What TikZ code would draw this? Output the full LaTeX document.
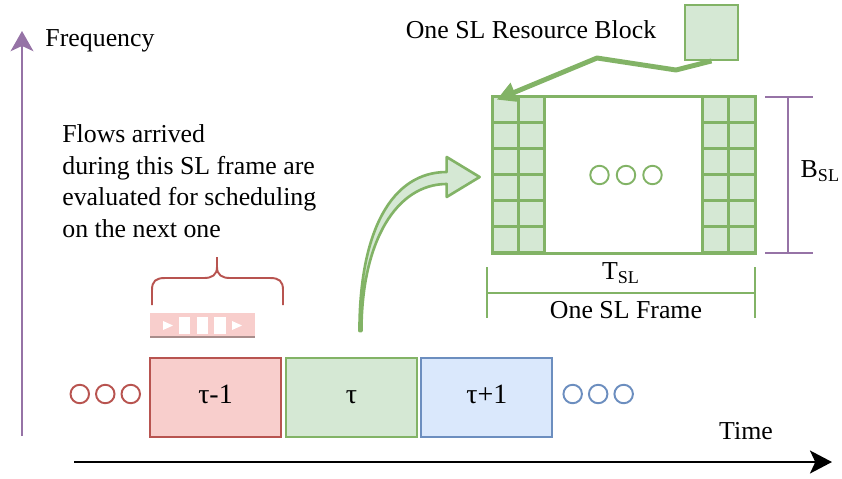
\documentclass[tikz,border=0pt]{standalone}
\usepackage{fontspec}
\setmainfont{Liberation Serif}
\usetikzlibrary{positioning, arrows.meta, calc}
\definecolor{redfill}{HTML}{F8CECC}
\definecolor{redline}{HTML}{B85450}
\definecolor{greenfill}{HTML}{D5E8D4}
\definecolor{greenline}{HTML}{82B366}
\definecolor{bluefill}{HTML}{DAE8FC}
\definecolor{blueline}{HTML}{6C8EBF}
\definecolor{axispurple}{HTML}{9673A6}
\definecolor{barline}{HTML}{A88D8B}
\tikzstyle{slot} = [rectangle, minimum width=2.62cm, minimum height=1.58cm, outer sep=0pt, text height=0.68em, text depth=0pt, text centered, line width=1.1pt, font=\fontsize{15.9}{19}\selectfont]
\tikzstyle{pastslot} = [slot, draw=redline, fill=redfill]
\tikzstyle{curslot} = [slot, draw=greenline, fill=greenfill]
\tikzstyle{nextslot} = [slot, draw=blueline, fill=bluefill]
\tikzstyle{ring} = [circle, minimum size=0.37cm, inner sep=0pt, outer sep=0pt, line width=1.1pt]
\tikzstyle{cell} = [draw=greenline, fill=greenfill, line width=1.6pt]
\tikzstyle{frameline} = [draw=greenline, line width=1.6pt]
\tikzstyle{dimline} = [line width=1.1pt]
\tikzstyle{freqaxis} = [draw=axispurple, line width=1.1pt, -{Stealth[length=11.5pt, width=13pt, inset=3pt]}]
\tikzstyle{timeaxis} = [draw=black, line width=1.6pt, -{Stealth[length=12.5pt, width=13pt, inset=3pt]}]
\tikzstyle{rbarrow} = [draw=greenline, line width=2.8pt, line join=round, -{Triangle[length=11pt, width=11pt]}]
\tikzstyle{flex} = [draw=greenline, fill=greenfill, line width=1.5pt, line join=round]

\begin{document}
\begin{tikzpicture}[x=0.02cm, y=-0.02cm, font=\fontsize{14.7}{18}\selectfont]
    \useasboundingbox (0,0) rectangle (842,478);

    \coordinate (f0) at (22,436);
    \coordinate (f1) at (22,31);
    \draw [freqaxis] (f0) -- (f1);
    \node (freq) at (100,41) {Frequency};

    \coordinate (t0) at (74,462);
    \coordinate (t1) at (832,462);
    \draw [timeaxis] (t0) -- (t1);
    \node (time) at (746,431) {Time};

    \node (tm1) [pastslot] at (215.5,397.5) {τ-1};
    \node (tau) [curslot, right=0.1cm of tm1] {τ};
    \node (tp1) [nextslot, right=0.09cm of tau] {τ+1};

    \node (r3) [ring, draw=redline, left=0.2cm of tm1, yshift=0.07cm] {};
    \node (r2) [ring, draw=redline, left=0.14cm of r3] {};
    \node (r1) [ring, draw=redline, left=0.14cm of r2] {};
    \node (b1) [ring, draw=blueline, right=0.22cm of tp1, yshift=0.07cm] {};
    \node (b2) [ring, draw=blueline, right=0.14cm of b1] {};
    \node (b3) [ring, draw=blueline, right=0.14cm of b2] {};

    \node (note) [align=left, anchor=west, inner sep=0pt] at (62,181) {Flows arrived\\during this SL frame are\\evaluated for scheduling\\on the next one};

    \draw [draw=redline, line width=1.1pt] (152,305) -- (152,290) .. controls (152,281) and (156,278) .. (165,278) -- (204,278) .. controls (212,278) and (217,275) .. (217,267) -- (217,257);
    \draw [draw=redline, line width=1.1pt] (217,267) .. controls (217,275) and (222,278) .. (230,278) -- (270,278) .. controls (279,278) and (283,281) .. (283,290) -- (283,305);

    \fill [redfill] (150,313) rectangle (255,336);
    \draw [draw=barline, line width=1.1pt] (150,337) -- (255,337);
    \fill [white] (163,321) -- (173,325.5) -- (163,330) -- cycle;
    \fill [white] (232,321) -- (242,325.5) -- (232,330) -- cycle;
    \fill [white] (179,317) rectangle (190,334);
    \fill [white] (197,317) rectangle (208,334);
    \fill [white] (214,317) rectangle (226,334);

    \node (frame) [rectangle, minimum width=5.24cm, minimum height=3.12cm, inner sep=0pt] at (624,175) {};
    \foreach \r in {0,...,5}
        \foreach \c in {0,1} {
            \draw [cell] ($(frame.north west)+(26*\c,26*\r)$) rectangle ++(26,26);
            \draw [cell] ($(frame.north east)+(-53+26.5*\c,26*\r)$) rectangle ++(26.5,26);
        }
    \draw [frameline] (frame.north west) rectangle (frame.south east);

    \node (g2) [ring, draw=greenline] at ($(frame.center)+(2,0)$) {};
    \node (g1) [ring, draw=greenline, left=0.16cm of g2] {};
    \node (g3) [ring, draw=greenline, right=0.16cm of g2] {};

    \node (rb) [rectangle, draw=greenline, fill=greenfill, line width=1.1pt, minimum width=1.06cm, minimum height=1.1cm] at (711.5,32.5) {};
    \node (rbtext) at (531,30) {One SL Resource Block};
    \draw [rbarrow] (rb.south) -- (676,70) -- (597,58) -- ($(frame.north west)+(4,3)$);

    \coordinate (fs) at ($(tau.north)+(8,-27)$);
    \coordinate (ft) at ($(frame.west)+(-13,2)$);
    \filldraw [flex] (fs) .. controls +(0,-100) and +(-55,0) .. ($(ft)+(-33,-5)$) -- ($(ft)+(-33,-20)$) -- (ft) -- ($(ft)+(-33,20)$) -- ($(ft)+(-33,7)$) .. controls +(-50,0) and +(0,-90) .. ($(fs)+(2,0)$) -- cycle;

    \coordinate (bt) at ($(frame.north east)+(33,0)$);
    \coordinate (bb) at ($(frame.south east)+(33,0)$);
    \draw [dimline, draw=axispurple] ($(bt)+(-23,0)$) -- ($(bt)+(25,0)$);
    \draw [dimline, draw=axispurple] ($(bb)+(-23,0)$) -- ($(bb)+(25,0)$);
    \draw [dimline, draw=axispurple] (bt) -- (bb);
    \node (bsl) at ($(frame.east)+(65,-4)$) {B\textsubscript{SL}};

    \coordinate (tl) at ($(frame.south west)+(-6,40)$);
    \coordinate (tr) at ($(frame.south east)+(0,40)$);
    \draw [dimline, draw=greenline] ($(tl)+(0,-26)$) -- ($(tl)+(0,25)$);
    \draw [dimline, draw=greenline] ($(tr)+(0,-26)$) -- ($(tr)+(0,25)$);
    \draw [dimline, draw=greenline] (tl) -- (tr);
    \node (tsl) at ($(tl)!0.5!(tr)+(0,-20)$) {T\textsubscript{SL}};
    \node (slframe) at ($(tl)!0.5!(tr)+(5,17)$) {One SL Frame};
\end{tikzpicture}
\end{document}
